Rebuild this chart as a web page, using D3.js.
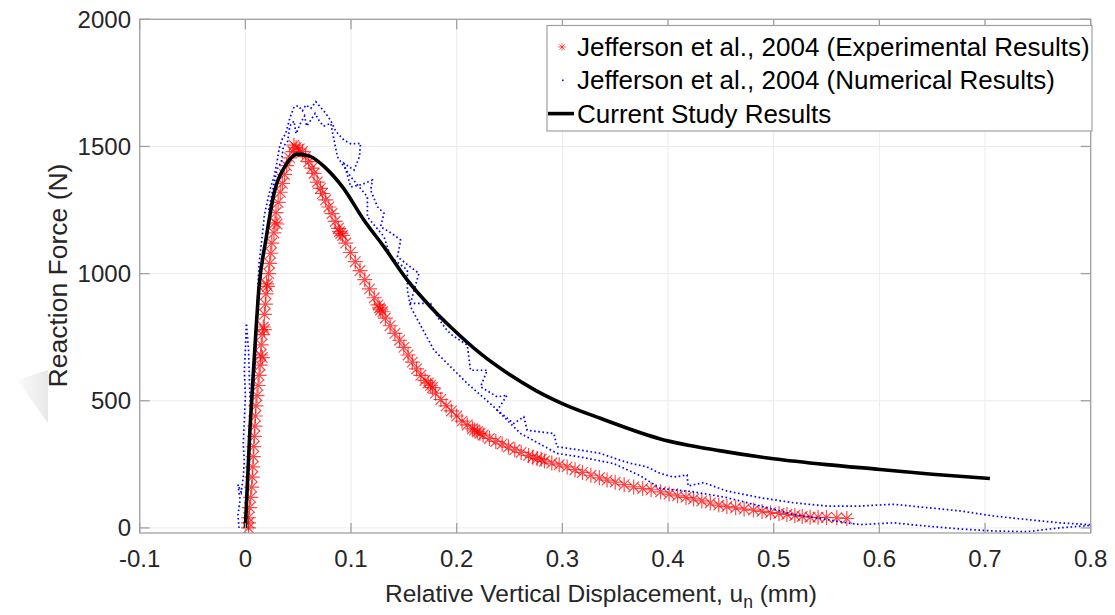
<!DOCTYPE html>
<html>
<head>
<meta charset="utf-8">
<script src="https://cdnjs.cloudflare.com/ajax/libs/d3/7.8.5/d3.min.js"></script>
<style>
body { margin: 0; background: #fff; }
svg text { font-family: "Liberation Sans", Arial, Helvetica, sans-serif; }
</style>
</head>
<body>
<div id="chart"></div>
<script>
var width = 1115,
height = 615,
plotLeft = 139.7,
plotRight = 1090.7,
plotTop = 19.3,
plotBottom = 533;

var xTicks = [-0.1, 0, 0.1, 0.2, 0.3, 0.4, 0.5, 0.6, 0.7, 0.8];
var yTicks = [0, 500, 1000, 1500, 2000];
var xDomain = [-0.1, 0.8];
var yDomain = [-20, 2000];

var legendLabels = ["Jefferson et al., 2004 (Experimental Results)",
	"Jefferson et al., 2004 (Numerical Results)",
	"Current Study Results"];

// Jefferson et al. experimental (red asterisks)
var expData = [
[0.003,0],[0.003,20],[0.003,40],[0.004,80],[0.005,120],[0.006,160],[0.0065,200],[0.007,240],[0.0075,280],[0.008,320],
[0.0085,360],[0.009,400],[0.0095,440],[0.010,480],[0.011,520],[0.012,560],[0.013,600],[0.014,640],[0.0145,680],[0.016,670],
[0.015,720],[0.016,760],[0.017,790],[0.018,780],[0.018,840],[0.019,880],[0.0195,920],[0.021,950],[0.020,960],[0.022,1000],
[0.023,1040],[0.024,1080],[0.025,1120],[0.027,1160],[0.028,1200],[0.030,1195],[0.029,1240],[0.031,1280],[0.033,1320],[0.035,1355],
[0.037,1390],[0.039,1425],[0.042,1455],[0.045,1480],[0.048,1495],[0.046,1505],[0.051,1490],
[0.054,1480],[0.057,1460],[0.060,1440],[0.063,1415],[0.065,1394],[0.068,1360],[0.071,1335],[0.073,1315],[0.076,1290],[0.079,1262],
[0.082,1236],[0.085,1205],[0.088,1178],[0.0903,1158],[0.089,1165],[0.092,1150],[0.095,1120],[0.0995,1083],[0.104,1047],[0.1085,1012],
[0.113,976],[0.1175,940],[0.122,905],[0.1255,877],[0.128,857],[0.130,850],[0.127,865],[0.1325,825],[0.137,795],[0.1415,765],
[0.146,738],[0.150,710],[0.154,680],[0.158,652],[0.162,625],[0.166,600],[0.170,580],[0.1753,561],[0.173,570],[0.177,552],
[0.180,530],[0.185,505],[0.190,480],[0.195,460],[0.200,440],[0.205,420],[0.210,405],[0.215,390],[0.2195,378],[0.222,372],
[0.217,385],[0.225,365],[0.231,352],[0.237,340],[0.243,330],[0.249,318],[0.255,307],[0.261,297],[0.268,285],[0.2762,273],
[0.272,278],[0.280,270],[0.283,263],[0.290,255],[0.297,248],[0.3045,240],[0.312,229],[0.319,218],[0.327,207],[0.335,197],
[0.3423,188],[0.350,180],[0.3585,170],[0.3675,161],[0.376,155],[0.384,150],[0.393,142],[0.401,133],[0.409,126],[0.417,120],
[0.4242,114],[0.432,106],[0.440,98],[0.448,90],[0.4557,84],[0.464,79],[0.472,74],[0.4809,70],[0.489,65],[0.497,60],
[0.505,57],[0.5125,53],[0.520,49],[0.527,45],[0.5345,42],[0.542,42],[0.550,41],[0.5597,40],[0.5692,37]
];

// Jefferson et al. numerical (blue dots), outer trace
var numUpper = [
[-0.006,0],[-0.007,50],[-0.005,110],[-0.007,170],[-0.004,140],[-0.002,200],[-0.001,260],[-0.002,330],[-0.001,420],[0.000,520],
[-0.001,620],[0.000,700],[0.001,805],[0.003,700],[0.004,560],[0.005,450],[0.008,560],[0.010,700],[0.011,850],[0.012,960],
[0.013,1040],[0.0162,1158],[0.018,1230],[0.021,1288],[0.024,1340],[0.0272,1381],[0.030,1440],[0.032,1492],[0.035,1530],[0.0383,1552],
[0.042,1610],[0.0461,1656],[0.050,1660],[0.054,1640],[0.0572,1663],[0.062,1650],[0.0666,1676],[0.071,1655],[0.0761,1630],[0.0808,1602],
[0.0855,1560],[0.0934,1525],[0.100,1510],[0.109,1512],[0.108,1460],[0.1028,1407],[0.0934,1433],[0.0997,1341],[0.110,1350],[0.1202,1368],
[0.1186,1328],[0.125,1263],[0.1312,1237],[0.128,1184],[0.138,1160],[0.147,1132],[0.1439,1066],[0.155,1030],[0.1643,1001],[0.160,940],
[0.1564,883],[0.1753,883],[0.1817,830],[0.1895,784],[0.195,760],[0.21,719],[0.2131,620],[0.2289,620],[0.2226,555],[0.2384,515],
[0.2478,522],[0.2384,463],[0.254,411],[0.2635,437],[0.2667,384],[0.2919,371],[0.295,319],[0.3171,306],[0.336,293],[0.3549,266],
[0.3644,254],[0.38,240],[0.3927,214],[0.4053,200],[0.418,208],[0.419,165],[0.4337,178],[0.4557,145],[0.4872,119],[0.5187,99],
[0.5503,86],[0.5818,86],[0.6132,93],[0.6448,80],[0.6763,67],[0.7077,47],[0.7393,33],[0.7708,20],[0.799,13],[0.80,22]
];

// Jefferson et al. numerical, inner trace
var numLower = [
[0.022,1250],[0.026,1330],[0.030,1410],[0.034,1440],[0.036,1500],[0.040,1520],[0.042,1580],[0.046,1600],[0.048,1550],[0.052,1590],
[0.056,1620],[0.058,1580],[0.063,1610],[0.066,1630],[0.070,1600],[0.074,1580],[0.0808,1591],
[0.0871,1459],[0.0997,1381],[0.1155,1302],[0.1155,1223],[0.1312,1145],[0.1375,1066],[0.1533,1014],[0.1533,935],[0.1564,869],[0.1785,699],
[0.21,568],[0.2352,476],[0.2604,371],[0.295,293],[0.3171,279],[0.3486,253],[0.3738,205],[0.3927,155],[0.4242,142],[0.4557,119],
[0.4872,86],[0.5187,53],[0.5503,33],[0.5692,20],[0.5818,13],[0.6132,20],[0.6448,7],[0.6763,-4],[0.7077,-12],[0.7393,-15],
[0.77,0],[0.80,10]
];

// Current study (black line)
var currentData = [
[0,0],[0.0043,385],[0.0083,660],[0.013,950],[0.0194,1132],[0.0272,1317],[0.0383,1427],[0.0493,1470],[0.0603,1463],[0.0761,1415],
[0.0919,1341],[0.1123,1210],[0.1312,1105],[0.1533,974],[0.1753,869],[0.1958,784],[0.2226,685],[0.25,603],[0.275,540],[0.301,487],
[0.336,431],[0.3927,350],[0.45,303],[0.4998,272],[0.55,249],[0.6007,230],[0.65,211],[0.7046,194]
];

var x = d3.scaleLinear().domain(xDomain).range([plotLeft, plotRight]);
var y = d3.scaleLinear().domain(yDomain).range([plotBottom, plotTop]);

var svg = d3.select("#chart").append("svg")
.attr("width", width)
.attr("height", height)
.style("background", "#fff");

// faint grey shadow at left edge
var shade = svg.append("defs").append("linearGradient")
.attr("id", "shade").attr("x1", "0").attr("x2", "1");
shade.append("stop").attr("offset", "0").attr("stop-color", "#fbfbfb");
shade.append("stop").attr("offset", "1").attr("stop-color", "#e8e8e8");
svg.append("polygon")
.attr("points", "17,380 48,370 48,423")
.attr("fill", "url(#shade)");

svg.append("clipPath").attr("id", "plotClip")
.append("rect")
.attr("x", plotLeft).attr("y", plotTop)
.attr("width", plotRight - plotLeft).attr("height", plotBottom - plotTop);

// grid
svg.append("g").selectAll("line").data(xTicks).enter().append("line")
.attr("x1", function(d) { return x(d); }).attr("x2", function(d) { return x(d); })
.attr("y1", plotTop).attr("y2", plotBottom)
.attr("stroke", "#ebebeb").attr("stroke-width", 1);
svg.append("g").selectAll("line").data(yTicks).enter().append("line")
.attr("y1", function(d) { return y(d); }).attr("y2", function(d) { return y(d); })
.attr("x1", plotLeft).attr("x2", plotRight)
.attr("stroke", "#ebebeb").attr("stroke-width", 1);

var plot = svg.append("g").attr("clip-path", "url(#plotClip)");

function asterisk(r) {
	var d = r * 0.7071;
	return "M" + (-r) + ",0L" + r + ",0M0," + (-r) + "L0," + r +
	"M" + (-d) + "," + (-d) + "L" + d + "," + d +
	"M" + (-d) + "," + d + "L" + d + "," + (-d);
}

plot.append("g").selectAll("path").data(expData).enter().append("path")
.attr("transform", function(d) { return "translate(" + x(d[0]) + "," + y(d[1]) + ")"; })
.attr("d", asterisk(7.5))
.attr("fill", "none")
.attr("stroke", "#ff0000")
.attr("stroke-opacity", 0.72)
.attr("stroke-width", 1.2);

var line = d3.line()
.x(function(d) { return x(d[0]); })
.y(function(d) { return y(d[1]); });

[numUpper, numLower].forEach(function(s) {
	plot.append("path")
	.datum(s)
	.attr("d", line)
	.attr("fill", "none")
	.attr("stroke", "#0000ff")
	.attr("stroke-width", 1.7)
	.attr("stroke-dasharray", "1.6 2.6");
});

plot.append("path")
.datum(currentData)
.attr("d", line.curve(d3.curveMonotoneX))
.attr("fill", "none")
.attr("stroke", "#000")
.attr("stroke-width", 3.6)
.attr("stroke-linejoin", "round");

// axes box + inward ticks
var axisColor = "#a0a0a0";
svg.append("rect")
.attr("x", plotLeft).attr("y", plotTop)
.attr("width", plotRight - plotLeft).attr("height", plotBottom - plotTop)
.attr("fill", "none").attr("stroke", axisColor).attr("stroke-width", 1.3);

var ticks = svg.append("g").attr("stroke", axisColor).attr("stroke-width", 1.3);
xTicks.forEach(function(t) {
	ticks.append("line").attr("x1", x(t)).attr("x2", x(t)).attr("y1", plotBottom).attr("y2", plotBottom - 10);
	ticks.append("line").attr("x1", x(t)).attr("x2", x(t)).attr("y1", plotTop).attr("y2", plotTop + 10);
});
yTicks.forEach(function(t) {
	ticks.append("line").attr("y1", y(t)).attr("y2", y(t)).attr("x1", plotLeft).attr("x2", plotLeft + 10);
	ticks.append("line").attr("y1", y(t)).attr("y2", y(t)).attr("x1", plotRight).attr("x2", plotRight - 10);
});

svg.append("g").selectAll("text").data(xTicks).enter().append("text")
.attr("x", function(d) { return x(d); })
.attr("y", 567)
.attr("text-anchor", "middle")
.attr("font-size", 24)
.attr("fill", "#262626")
.text(function(d) { return String(d); });

svg.append("g").selectAll("text").data(yTicks).enter().append("text")
.attr("x", 131)
.attr("y", function(d) { return y(d) + 8.5; })
.attr("text-anchor", "end")
.attr("font-size", 24)
.attr("fill", "#262626")
.text(function(d) { return d; });

// axis labels
var xl = svg.append("text")
.attr("x", 385).attr("y", 602)
.attr("font-size", 24.5)
.attr("fill", "#262626");
xl.append("tspan").text("Relative Vertical Displacement, u");
xl.append("tspan").attr("font-size", 17.5).attr("dy", 6).text("n");
xl.append("tspan").attr("dy", -6).text(" (mm)");

svg.append("text")
.attr("transform", "translate(67,275.5) rotate(-90)")
.attr("text-anchor", "middle")
.attr("font-size", 26.5)
.attr("fill", "#262626")
.text("Reaction Force (N)");

// legend
var legend = svg.append("g");
legend.append("rect")
.attr("x", 547).attr("y", 25.5)
.attr("width", 545).attr("height", 105.5)
.attr("fill", "#fff")
.attr("stroke", axisColor).attr("stroke-width", 1.2);

var rows = legend.selectAll("g").data(legendLabels).enter().append("g")
.attr("transform", function(d, i) { return "translate(0," + (47 + i * 33.3) + ")"; });

rows.append("text")
.attr("x", 577)
.attr("y", 9)
.attr("font-size", 26)
.attr("fill", "#000")
.text(function(d) { return d; });

rows.filter(function(d, i) { return i === 0; }).append("path")
.attr("transform", "translate(562,0)")
.attr("d", asterisk(3.8))
.attr("fill", "none").attr("stroke", "#ff0000").attr("stroke-opacity", 0.6).attr("stroke-width", 1);

rows.filter(function(d, i) { return i === 1; }).append("rect")
.attr("x", 562).attr("y", -0.8).attr("width", 1.6).attr("height", 1.6)
.attr("fill", "#0000ff");

rows.filter(function(d, i) { return i === 2; }).append("line")
.attr("x1", 548).attr("x2", 574).attr("y1", 0).attr("y2", 0)
.attr("stroke", "#000").attr("stroke-width", 3.6);
</script>
</body>
</html>
